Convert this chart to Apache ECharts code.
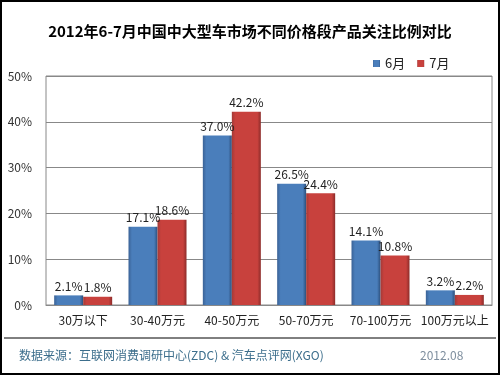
<!DOCTYPE html>
<html><head><meta charset="utf-8">
<script src="https://cdn.jsdelivr.net/npm/echarts@6/dist/echarts.min.js"></script>
<style>html,body{margin:0;padding:0;background:#fff}#c{width:500px;height:375px}</style>
</head><body><div id="c"></div>
<script>
const categories = ['30万以下','30-40万元','40-50万元','50-70万元','70-100万元','100万元以上'];
const june = [2.1, 17.1, 37.0, 26.5, 14.1, 3.2];
const july = [1.8, 18.6, 42.2, 24.4, 10.8, 2.2];
const seriesNames = ['6月','7月'];
const yTicks = [0,10,20,30,40,50];

const font = '"Noto Sans CJK SC","DejaVu Sans",sans-serif';
function grad(side, mid, edge){
  return {type:'linear',x:0,y:0,x2:1,y2:0,colorStops:[
    {offset:0,color:side},{offset:0.12,color:mid},{offset:0.88,color:mid},{offset:1,color:edge}]};
}
const chart = echarts.init(document.getElementById('c'));
chart.setOption({
  animation:false,
  backgroundColor:'#fff',
  title:{text:'2012年6-7月中国中大型车市场不同价格段产品关注比例对比',left:'center',top:19,
    textStyle:{fontFamily:font,fontSize:15,fontWeight:'bold',color:'#000'}},
  legend:{data:seriesNames,top:52,left:368,itemWidth:7,itemHeight:7,itemGap:12,
    textStyle:{fontFamily:font,fontSize:13,color:'#222'},icon:'rect'},
  grid:{left:46,right:8,top:76,bottom:70,show:true,borderColor:'#888',borderWidth:1},
  xAxis:{type:'category',data:categories,
    axisLine:{lineStyle:{color:'#888'}},axisTick:{show:false},
    axisLabel:{fontFamily:font,fontSize:12,color:'#222',margin:9,interval:0}},
  yAxis:{type:'value',min:yTicks[0],max:yTicks[yTicks.length-1],interval:10,
    axisLine:{show:false},axisTick:{show:false},
    splitLine:{lineStyle:{color:'#888'}},
    axisLabel:{fontFamily:font,fontSize:12,color:'#333',formatter:v=>v+'%',margin:14}},
  series:[
    {name:seriesNames[0],type:'bar',data:june,barWidth:29,barGap:'0%',
     itemStyle:{color:grad('#3a6296','#4a7ebb','#2c4f7c')},
     label:{show:true,position:'top',formatter:p=>p.value.toFixed(1)+'%',fontFamily:font,fontSize:12,color:'#222',distance:3}},
    {name:seriesNames[1],type:'bar',data:july,barWidth:29,
     itemStyle:{color:grad('#a33a37','#c8413d','#8c2c2a')},
     label:{show:true,position:'top',formatter:p=>p.value.toFixed(1)+'%',fontFamily:font,fontSize:12,color:'#222',distance:3}}
  ],
  graphic:[
    {type:'rect',shape:{x:1,y:1,width:498,height:373},style:{fill:'none',stroke:'#000',lineWidth:2},z:100},
    {type:'line',shape:{x1:4,y1:338,x2:496,y2:338},style:{stroke:'#000',lineWidth:1}},
    {type:'text',left:19,top:349,style:{text:'数据来源：互联网消费调研中心(ZDC) & 汽车点评网(XGO)',fontFamily:font,fontSize:12,fill:'#3c6e8c'}},
    {type:'text',left:420,top:349,style:{text:'2012.08',fontFamily:font,fontSize:12,fill:'#7f8f9f'}}
  ]
});
</script></body></html>
